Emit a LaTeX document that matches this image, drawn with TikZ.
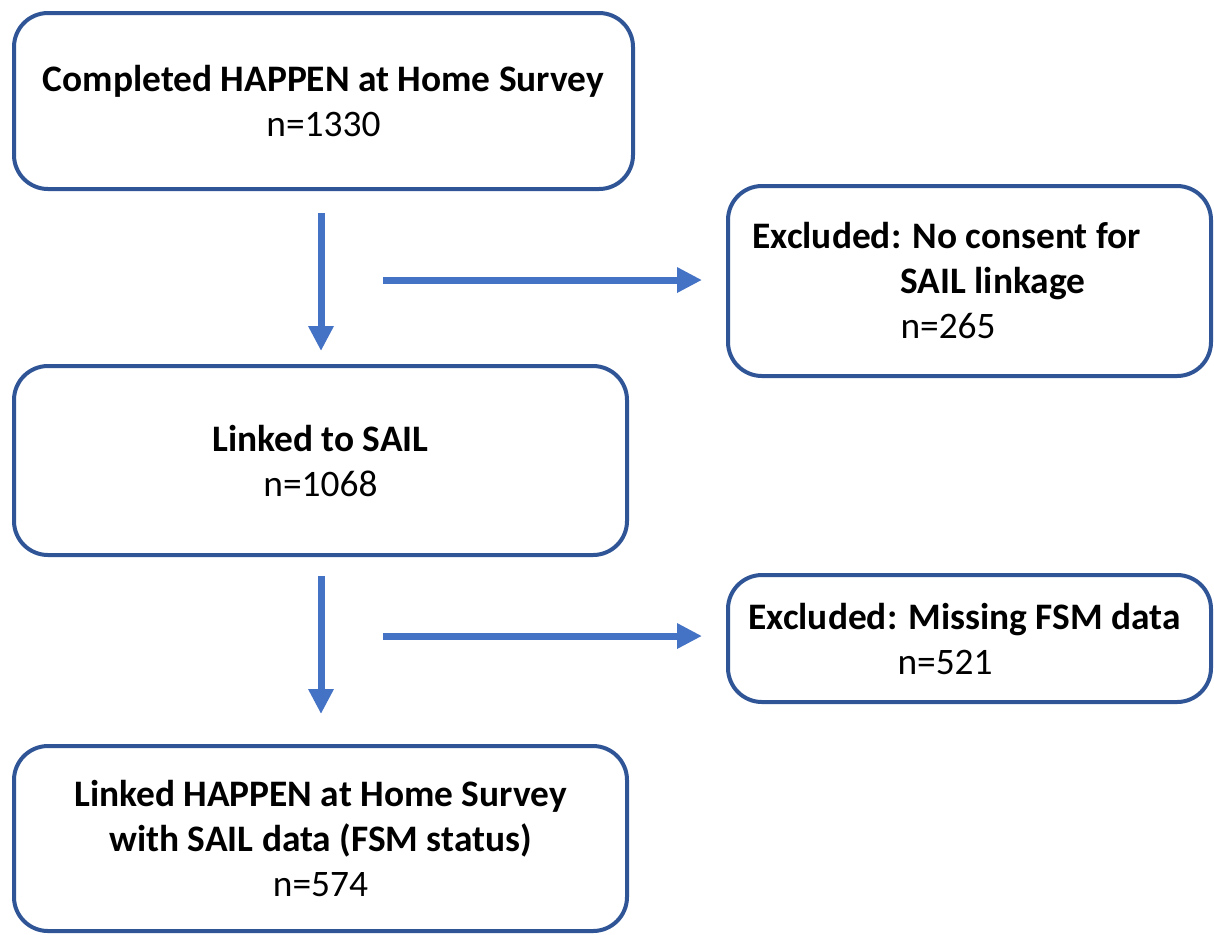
\documentclass[tikz,border=0pt]{standalone}
\usepackage{fontspec}
\setmainfont{Carlito}
\usetikzlibrary{arrows.meta}
\definecolor{boxblue}{HTML}{2F5597}
\definecolor{arrowblue}{HTML}{4472C4}
\begin{document}
\begin{tikzpicture}[x=0.5pt, y=-0.5pt,
    box/.style={draw=boxblue, line width=2pt, rounded corners=17pt, fill=white,
        align=center, font=\fontsize{18.7}{22.5}\selectfont, inner sep=0pt},
    exclbox/.style={box, align=flush left},
    flow/.style={draw=arrowblue, line width=3.5pt,
        -{Triangle[width=12pt, length=12.5pt]}}]
    \useasboundingbox (0,0) rectangle (1214,934);

    % Main boxes
    \node[box, minimum width=309.5pt, minimum height=88pt] (survey) at (323.5,101)
        {\textbf{Completed HAPPEN at Home Survey}\\n=1330};
    \node[box, minimum width=306.5pt, minimum height=94.5pt] (linked) at (320.5,460.5)
        {\textbf{Linked to SAIL}\\n=1068};
    \node[box, minimum width=306.5pt, minimum height=92.5pt] (final) at (320.5,838.5)
        {\textbf{Linked HAPPEN at Home Survey}\\\textbf{with SAIL data (FSM status)}\\n=574};

    % Exclusion boxes
    \node[exclbox, minimum width=241.5pt, minimum height=95pt, text width=217pt] (consent) at (969.5,281)
        {\textbf{Excluded: No consent for}\\\hspace*{74pt}\textbf{SAIL linkage}\\\hspace*{74pt}n=265};
    \node[exclbox, minimum width=241.5pt, minimum height=63.5pt, text width=221pt] (missing) at (969.5,638.5)
        {\textbf{Excluded: Missing FSM data}\\\hspace*{74.5pt}n=521};

    % Arrows
    \coordinate (split1) at (383,280);
    \coordinate (split2) at (383,636);
    \draw[flow, shorten <=11pt, shorten >=6.5pt] (survey.south -| 321,0) -- (linked.north -| 321,0);
    \draw[flow, shorten >=12pt] (split1) -- (split1 -| consent.west);
    \draw[flow, shorten <=9.5pt, shorten >=15pt] (linked.south -| 321,0) -- (final.north -| 321,0);
    \draw[flow, shorten >=12pt] (split2) -- (split2 -| missing.west);
\end{tikzpicture}
\end{document}
